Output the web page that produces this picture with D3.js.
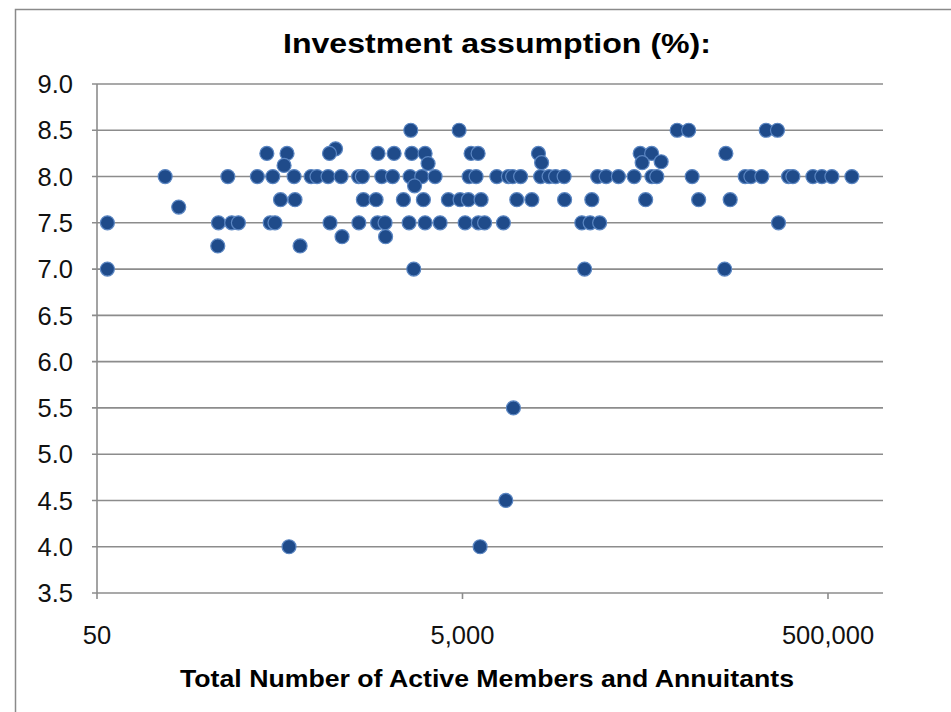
<!DOCTYPE html>
<html>
<head>
<meta charset="utf-8">
<script src="https://cdn.jsdelivr.net/npm/d3@7"></script>
<style>
  html, body { margin: 0; padding: 0; background: #fff; }
  svg { display: block; }
</style>
</head>
<body>
<svg id="chart" width="951" height="712"></svg>
<script>
// Plan size (active members + annuitants) and assumed investment return (%)
const members = [
  // 8.5
  2606, 4791, 74730, 86410, 229400, 264600,
  // 8.3
  1010,
  // 8.25
  425, 548, 936, 1726, 2112, 2639, 3121, 5572, 6086, 13020, 46900, 54200, 138100,
  // ~8.1–8.15
  528, 3241, 13550, 48090, 61090,
  // 8.0
  118, 260, 377, 458, 599, 742, 800, 919, 1083, 1350, 1416, 1808, 2072, 2583,
  2994, 3540, 5434, 5935, 7703, 8917, 9402, 10400, 13380, 14890, 16160, 17990,
  27450, 30550, 35670, 43470, 54350, 57860, 90300, 176100, 189300, 217400,
  304000, 321300, 413300, 463000, 525200, 675600,
  // 7.9
  2734,
  // 7.75
  505, 606, 1434, 1683, 2375, 3055, 4185, 4851, 5387, 6320, 9912, 11980, 18100,
  25510, 50260, 98000, 145800,
  // 7.67
  140,
  // 7.5
  57, 231, 273, 297, 443, 471, 942, 1355, 1715, 1885, 2551, 3121, 3771, 5167,
  6109, 6606, 8372, 22480, 24970, 28150, 268000,
  // 7.35
  1096, 1897,
  // 7.25
  229, 646,
  // 7.0
  57, 2706, 23290, 136000,
  // outliers
  562, 6242, 8630, 9497
];
const assumption = [
  8.5, 8.5, 8.5, 8.5, 8.5, 8.5,
  8.3,
  8.25, 8.25, 8.25, 8.25, 8.25, 8.25, 8.25, 8.25, 8.25, 8.25, 8.25, 8.25, 8.25,
  8.12, 8.14, 8.15, 8.15, 8.16,
  8, 8, 8, 8, 8, 8, 8, 8, 8, 8, 8, 8, 8, 8,
  8, 8, 8, 8, 8, 8, 8, 8, 8, 8, 8, 8,
  8, 8, 8, 8, 8, 8, 8, 8, 8, 8,
  8, 8, 8, 8, 8, 8,
  7.9,
  7.75, 7.75, 7.75, 7.75, 7.75, 7.75, 7.75, 7.75, 7.75, 7.75, 7.75, 7.75, 7.75,
  7.75, 7.75, 7.75, 7.75,
  7.67,
  7.5, 7.5, 7.5, 7.5, 7.5, 7.5, 7.5, 7.5, 7.5, 7.5, 7.5, 7.5, 7.5, 7.5,
  7.5, 7.5, 7.5, 7.5, 7.5, 7.5, 7.5,
  7.35, 7.35,
  7.25, 7.25,
  7.0, 7.0, 7.0, 7.0,
  4.0, 4.0, 4.5, 5.5
];
const xTicks = [50, 5000, 500000];
const yTicks = [3.5, 4.0, 4.5, 5.0, 5.5, 6.0, 6.5, 7.0, 7.5, 8.0, 8.5, 9.0];

const titleText = "Investment assumption (%):";
const xTitleText = "Total Number of Active Members and Annuitants";

const FONT = "Liberation Sans, Arial, sans-serif";
const svg = d3.select("#chart");
const plot = { left: 97, right: 883, top: 84, bottom: 593 };

const x = d3.scaleLog().domain([50, 1000000]).range([plot.left, plot.right]);
const y = d3.scaleLinear().domain([3.5, 9.0]).range([plot.bottom, plot.top]);

// outer chart frame
svg.append("rect")
  .attr("x", 15.5).attr("y", 9.5)
  .attr("width", 960).attr("height", 720)
  .attr("fill", "#fff")
  .attr("stroke", "#8a8a8a").attr("stroke-width", 1.5);

// horizontal gridlines (with short tick stubs left of the axis)
svg.append("g")
  .selectAll("line")
  .data(yTicks)
  .join("line")
  .attr("x1", plot.left - 5).attr("x2", plot.right)
  .attr("y1", d => y(d)).attr("y2", d => y(d))
  .attr("stroke", "#8c8c8c").attr("stroke-width", 1.6);

// y axis line
svg.append("line")
  .attr("x1", plot.left).attr("x2", plot.left)
  .attr("y1", plot.top).attr("y2", plot.bottom)
  .attr("stroke", "#8c8c8c").attr("stroke-width", 1.6);

// x tick marks
svg.append("g")
  .selectAll("line")
  .data(xTicks)
  .join("line")
  .attr("x1", d => x(d)).attr("x2", d => x(d))
  .attr("y1", plot.bottom).attr("y2", plot.bottom + 6)
  .attr("stroke", "#8c8c8c").attr("stroke-width", 1.6);

// y tick labels
svg.append("g")
  .selectAll("text")
  .data(yTicks)
  .join("text")
  .attr("x", 73)
  .attr("y", d => y(d))
  .attr("dy", "0.36em")
  .attr("text-anchor", "end")
  .attr("font-family", FONT)
  .attr("font-size", 25.5)
  .attr("fill", "#111")
  .text(d => d3.format(".1f")(d));

// x tick labels
svg.append("g")
  .selectAll("text")
  .data(xTicks)
  .join("text")
  .attr("x", d => x(d))
  .attr("y", 644)
  .attr("text-anchor", "middle")
  .attr("font-family", FONT)
  .attr("font-size", 25.5)
  .attr("fill", "#111")
  .text(d => d3.format(",")(d));

// data points
const pts = members.map((m, i) => ({ m, v: assumption[i] }));
svg.append("g")
  .selectAll("circle")
  .data(pts)
  .join("circle")
  .attr("cx", d => x(d.m))
  .attr("cy", d => y(d.v))
  .attr("r", 7)
  .attr("fill", "#1f4b8a")
  .attr("stroke", "#5b86c2")
  .attr("stroke-width", 1.2);

// chart title
svg.append("text")
  .attr("x", 497).attr("y", 53)
  .attr("text-anchor", "middle")
  .attr("font-family", FONT)
  .attr("font-weight", "bold")
  .attr("font-size", 28)
  .attr("fill", "#000")
  .attr("textLength", 428)
  .attr("lengthAdjust", "spacingAndGlyphs")
  .text(titleText);

// x axis title
svg.append("text")
  .attr("x", 487).attr("y", 687)
  .attr("text-anchor", "middle")
  .attr("font-family", FONT)
  .attr("font-weight", "bold")
  .attr("font-size", 24)
  .attr("fill", "#000")
  .attr("textLength", 614)
  .attr("lengthAdjust", "spacingAndGlyphs")
  .text(xTitleText);
</script>
</body>
</html>
